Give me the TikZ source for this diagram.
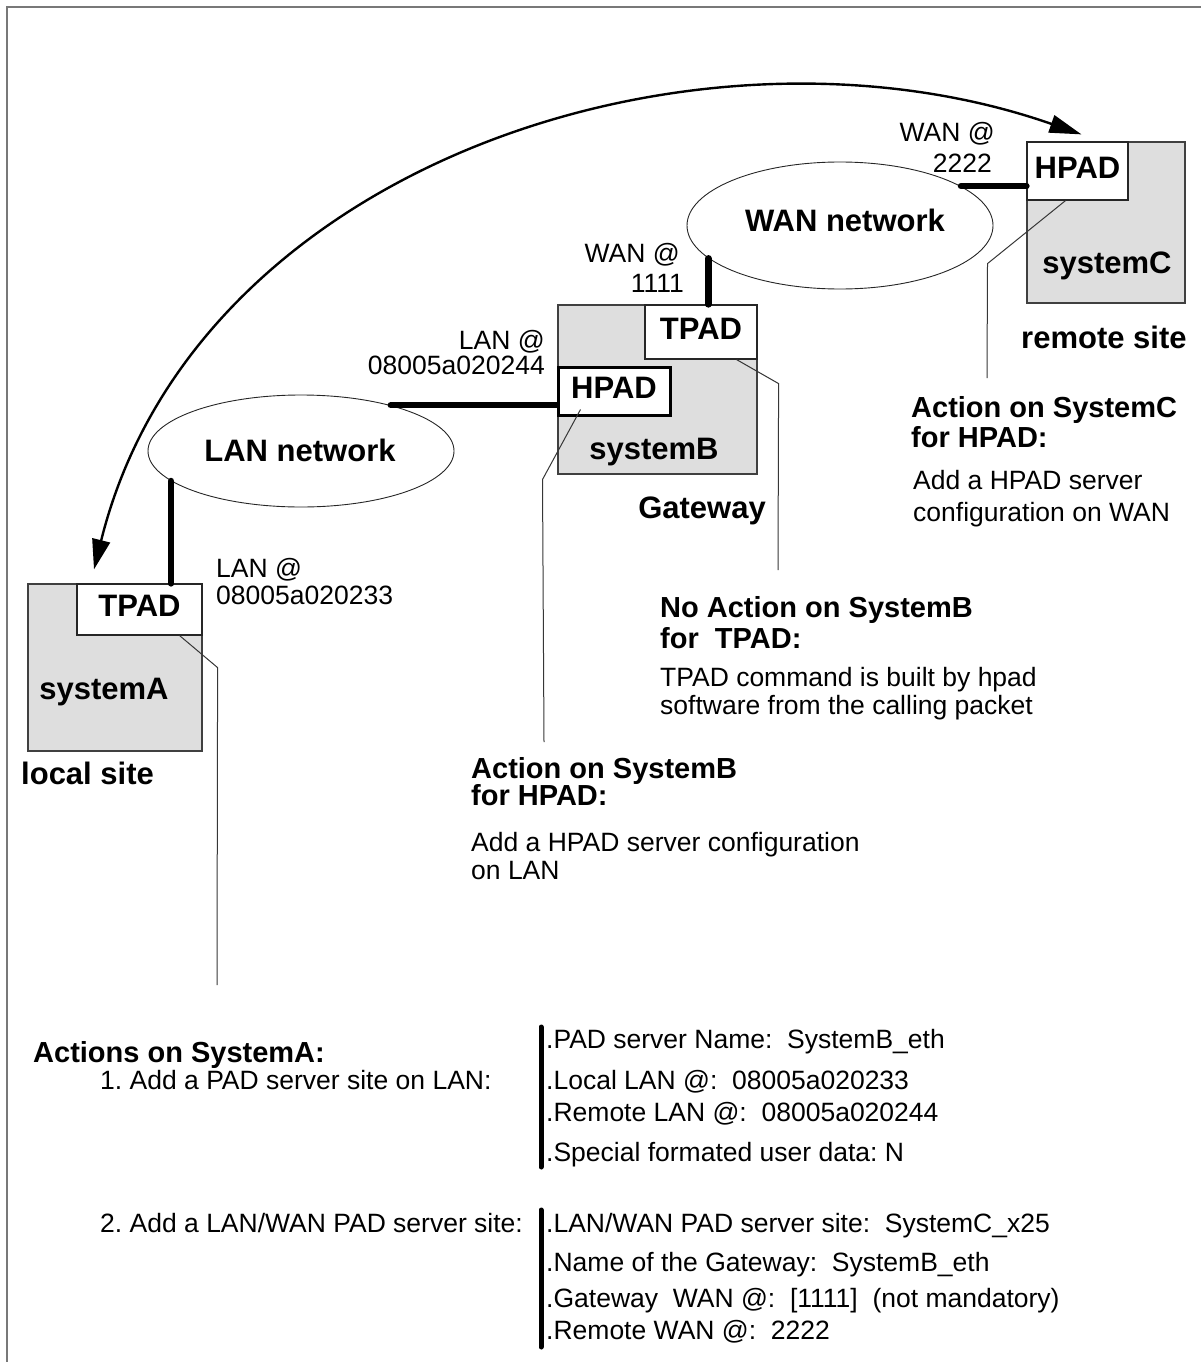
\documentclass[tikz,border=0pt]{standalone}
\usepackage{fontspec}
\setmainfont{Liberation Sans}
\usetikzlibrary{arrows.meta,shapes.geometric,calc}
\definecolor{boxgray}{RGB}{222,222,222}
\definecolor{framegray}{RGB}{120,120,120}
\definecolor{leadgray}{RGB}{55,55,55}
\frenchspacing

\begin{document}
\begin{tikzpicture}[x=1pt,y=-1pt,
  txt/.style={inner sep=0pt, text height=19pt, text depth=0pt, font=\fontsize{26.5}{30}\selectfont},
  lbl/.style={inner sep=0pt, text height=22.2pt, text depth=0pt, font=\bfseries\fontsize{31}{36}\selectfont},
  padtxt/.style={lbl, text depth=8pt},
  head/.style={inner sep=0pt, text height=20.8pt, text depth=0pt, font=\bfseries\fontsize{29}{34}\selectfont},
  system/.style={draw=black!75, fill=boxgray, line width=1.2pt, inner sep=0pt},
  pad/.style={draw=black!85, fill=white, line width=1.2pt, inner sep=0pt},
  net/.style={ellipse, draw=black!85, line width=0.9pt, inner sep=0pt},
  link/.style={line width=6.5pt, line cap=round},
  lead/.style={draw=leadgray, line width=1pt},
  bar/.style={line width=5pt, line cap=round},
]
\useasboundingbox (0,0) rectangle (1201,1362);

% frame
\draw[framegray, line width=2pt] (1201,7) -- (7,7) -- (7,1362);

% systems
\node[system, minimum width=174pt, minimum height=167pt] (sysA) at (115,667.5) {};
\node[pad, padtxt, minimum width=125pt, minimum height=51pt] (tpadA) at (139.5,609.5) {TPAD};
\node[lbl] (sysAname) at (104,688) {systemA};
\node[lbl, anchor=west] (localsite) at (21,773) {local site};

\node[system, minimum width=199pt, minimum height=169pt] (sysB) at (657.5,389.5) {};
\node[pad, padtxt, minimum width=112pt, minimum height=54pt] (tpadB) at (701,332) {TPAD};
\node[pad, padtxt, line width=3pt, draw=black, minimum width=112pt, minimum height=48pt] (hpadB) at (614,391) {HPAD};
\node[lbl] (sysBname) at (654,448) {systemB};
\node[lbl] (gateway) at (702,507) {Gateway};

\node[system, minimum width=158pt, minimum height=161pt] (sysC) at (1106,222.5) {};
\node[pad, padtxt, minimum width=101pt, minimum height=58pt] (hpadC) at (1077.5,171) {HPAD};
\node[lbl] (sysCname) at (1107,262) {systemC};
\node[lbl, anchor=west] (remotesite) at (1021,337) {remote site};

% networks
\node[net, minimum width=306pt, minimum height=112pt] (lan) at (301,451) {};
\node[lbl] (lanname) at (300,450) {LAN network};
\node[net, minimum width=306pt, minimum height=127pt] (wan) at (840,225.5) {};
\node[lbl] (wanname) at (845,220) {WAN network};

% network attachments
\draw[link] (lan.193.7) -- (lan.193.7 |- tpadA.north);
\draw[link] (lan.27.5) -- (lan.27.5 -| hpadB.west);
\draw[link] (wan.194.5) -- (wan.194.5 |- tpadB.north);
\draw[link] (wan.18.9) -- (wan.18.9 -| hpadC.west);

% addresses
\node[txt, anchor=west] (lanAa) at (216,568) {LAN @};
\node[txt, anchor=west] (lanAb) at (216,595) {08005a020233};
\node[txt, anchor=east] (lanBa) at (545,340) {LAN @};
\node[txt, anchor=east] (lanBb) at (545,365) {08005a020244};
\node[txt, anchor=east] (wanBa) at (680,253) {WAN @};
\node[txt, anchor=east] (wanBb) at (684,283) {1111};
\node[txt, anchor=east] (wanCa) at (995,132) {WAN @};
\node[txt, anchor=east] (wanCb) at (992,163) {2222};

% end-to-end call
\draw[line width=2.4pt, {Triangle[length=30pt,width=18pt]}-{Triangle[length=32pt,width=18pt]}]
  ($(sysA.north)+(-21,-14)$) .. controls +(101,-407) and +(-381,-133) .. ($(hpadC.north)+(4,-7)$);

% notes on systemC
\node[head, anchor=west] (actC1) at (911,407) {Action on SystemC};
\node[head, anchor=west] (actC2) at (911,437) {for HPAD:};
\node[txt, anchor=west] (actC3) at (913,480) {Add a HPAD server};
\node[txt, anchor=west] (actC4) at (913,512) {configuration on WAN};
\coordinate (leadC) at (987,378);
\draw[lead] ($(hpadC.south)+(-12,0)$) -- ++(-78,63) -- (leadC);

% notes on systemB
\node[head, anchor=west] (noB1) at (660,607) {No Action on SystemB};
\node[head, anchor=west] (noB2) at (660,638) {for\ \ TPAD:};
\node[txt, anchor=west] (noB3) at (660,677) {TPAD command is built by hpad};
\node[txt, anchor=west] (noB4) at (660,705) {software from the calling packet};
\coordinate (leadBT) at (778,570);
\draw[lead] ($(tpadB.south east)+(-21,0)$) -- ++(42,24) -- (leadBT);

\node[head, anchor=west] (actB1) at (471,768) {Action on SystemB};
\node[head, anchor=west] (actB2) at (471,795) {for HPAD:};
\node[txt, anchor=west] (actB3) at (471,842) {Add a HPAD server configuration};
\node[txt, anchor=west] (actB4) at (471,870) {on LAN};
\coordinate (leadBH) at (544,742);
\draw[lead] ($(hpadB.south west)+(24,-7)$) -- ++(-38,70) -- (leadBH);

% notes on systemA
\coordinate (leadA) at (217,985);
\draw[lead] ($(tpadA.south east)+(-23,0)$) -- ++(38,32) -- (leadA);
\node[head, anchor=west] (actA) at (33,1052) {Actions on SystemA:};

\node[txt, anchor=west] (stepA1) at (100,1080) {1. Add a PAD server site on LAN:};
\draw[bar] (541,1027) -- (541,1167);
\node[txt, anchor=west] (p11) at (546,1039) {.PAD server Name:\ \ SystemB\_eth};
\node[txt, anchor=west] (p12) at (546,1080) {.Local LAN @:\ \ 08005a020233};
\node[txt, anchor=west] (p13) at (546,1112) {.Remote LAN @:\ \ 08005a020244};
\node[txt, anchor=west] (p14) at (546,1152) {.Special formated user data: N};

\node[txt, anchor=west] (stepA2) at (100,1223) {2. Add a LAN/WAN PAD server site:};
\draw[bar] (541,1210) -- (541,1347);
\node[txt, anchor=west] (p21) at (546,1223) {.LAN/WAN PAD server site:\ \ SystemC\_x25};
\node[txt, anchor=west] (p22) at (546,1262) {.Name of the Gateway:\ \ SystemB\_eth};
\node[txt, anchor=west] (p23) at (546,1298) {.Gateway\ \ WAN @:\ \ [1111]\ \ (not mandatory)};
\node[txt, anchor=west] (p24) at (546,1330) {.Remote WAN @:\ \ 2222};
\end{tikzpicture}
\end{document}
